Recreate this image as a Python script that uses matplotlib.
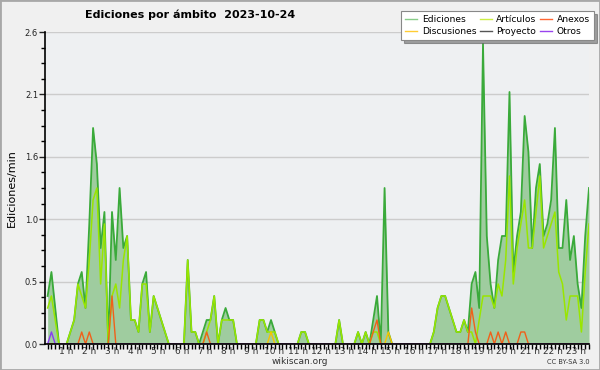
import matplotlib
matplotlib.use("Agg")
import matplotlib.pyplot as plt
from matplotlib.lines import Line2D
from matplotlib.patches import Rectangle
import numpy as np

# ediciones/min por intervalo de 10 minutos (144 intervalos, 12 por fila = 2 h)
ediciones = [
    0.4, 0.6, 0.3, 0, 0, 0, 0.1, 0.2, 0.5, 0.6, 0.3, 1.0,
    1.8, 1.5, 0.8, 1.1, 0, 1.1, 0.7, 1.3, 0.8, 0.9, 0.2, 0.2,
    0.1, 0.5, 0.6, 0.1, 0.4, 0.3, 0.2, 0.1, 0, 0, 0, 0,
    0, 0.7, 0.1, 0.1, 0, 0.1, 0.2, 0.2, 0.4, 0, 0.2, 0.3,
    0.2, 0.2, 0, 0, 0, 0, 0, 0, 0.2, 0.2, 0.1, 0.2,
    0.1, 0, 0, 0, 0, 0, 0, 0.1, 0.1, 0, 0, 0,
    0, 0, 0, 0, 0, 0.2, 0, 0, 0, 0, 0.1, 0,
    0.1, 0, 0.2, 0.4, 0, 1.3, 0.1, 0, 0, 0, 0, 0,
    0, 0, 0, 0, 0, 0, 0.1, 0.3, 0.4, 0.4, 0.3, 0.2,
    0.1, 0.1, 0.2, 0.1, 0.5, 0.6, 0.3, 2.5, 0.9, 0.5, 0.3, 0.7,
    0.9, 0.9, 2.1, 0.6, 0.9, 1.1, 1.9, 1.6, 0.8, 1.3, 1.5, 0.9,
    1.0, 1.2, 1.8, 0.8, 0.8, 1.2, 0.7, 0.9, 0.5, 0.3, 0.9, 1.3,
]
articulos = [
    0.3, 0.4, 0.2, 0, 0, 0, 0.1, 0.2, 0.5, 0.4, 0.3, 0.7,
    1.2, 1.3, 0.5, 1.0, 0, 0.4, 0.5, 0.3, 0.7, 0.9, 0.2, 0.2,
    0.1, 0.5, 0.5, 0.1, 0.4, 0.3, 0.2, 0.1, 0, 0, 0, 0,
    0, 0.7, 0.1, 0.1, 0, 0, 0.1, 0.2, 0.4, 0, 0.2, 0.2,
    0.2, 0.2, 0, 0, 0, 0, 0, 0, 0.2, 0.2, 0.1, 0.1,
    0.1, 0, 0, 0, 0, 0, 0, 0.1, 0.1, 0, 0, 0,
    0, 0, 0, 0, 0, 0.2, 0, 0, 0, 0, 0.1, 0,
    0.1, 0, 0.1, 0.1, 0, 0, 0, 0, 0, 0, 0, 0,
    0, 0, 0, 0, 0, 0, 0.1, 0.3, 0.4, 0.4, 0.3, 0.2,
    0.1, 0.1, 0.2, 0.1, 0.1, 0, 0.2, 0.4, 0.4, 0.4, 0.3, 0.5,
    0.4, 0.7, 1.4, 0.5, 0.8, 1.0, 1.2, 0.8, 0.8, 1.1, 1.4, 0.8,
    0.9, 1.0, 1.1, 0.6, 0.5, 0.2, 0.4, 0.4, 0.4, 0.1, 0.6, 1.0,
]
anexos = [
    0, 0, 0, 0, 0, 0, 0, 0, 0, 0.1, 0, 0.1,
    0, 0, 0, 0, 0, 0.4, 0, 0, 0, 0, 0, 0,
    0, 0, 0, 0, 0, 0, 0, 0, 0, 0, 0, 0,
    0, 0, 0, 0, 0, 0, 0.1, 0, 0, 0, 0, 0,
    0, 0, 0, 0, 0, 0, 0, 0, 0, 0, 0, 0,
    0, 0, 0, 0, 0, 0, 0, 0, 0, 0, 0, 0,
    0, 0, 0, 0, 0, 0, 0, 0, 0, 0, 0, 0,
    0, 0, 0.1, 0.2, 0, 0, 0, 0, 0, 0, 0, 0,
    0, 0, 0, 0, 0, 0, 0, 0, 0, 0, 0, 0,
    0, 0, 0, 0, 0.3, 0.1, 0, 0, 0, 0.1, 0, 0.1,
    0, 0.1, 0, 0, 0, 0.1, 0.1, 0, 0, 0, 0, 0,
    0, 0, 0, 0, 0, 0, 0, 0, 0, 0, 0, 0,
]
discusiones = [
    0, 0, 0, 0, 0, 0, 0, 0, 0, 0, 0, 0,
    0, 0, 0, 0, 0, 0, 0, 0, 0, 0, 0, 0,
    0, 0, 0, 0, 0, 0, 0, 0, 0, 0, 0, 0,
    0, 0, 0, 0, 0, 0, 0, 0, 0, 0, 0, 0,
    0, 0, 0, 0, 0, 0, 0, 0, 0, 0, 0, 0.1,
    0, 0, 0, 0, 0, 0, 0, 0, 0, 0, 0, 0,
    0, 0, 0, 0, 0, 0, 0, 0, 0, 0, 0, 0,
    0, 0, 0, 0, 0, 0, 0.1, 0, 0, 0, 0, 0,
    0, 0, 0, 0, 0, 0, 0, 0, 0, 0, 0, 0,
    0, 0, 0, 0, 0, 0, 0, 0, 0, 0, 0, 0,
    0, 0, 0, 0, 0, 0, 0, 0, 0, 0, 0, 0,
    0, 0, 0, 0, 0, 0, 0, 0, 0, 0, 0, 0,
]
proyecto = [0] * 144
otros = [
    0, 0.1, 0, 0, 0, 0, 0, 0, 0, 0, 0, 0,
] + [0] * 132

horas = list(range(1, 24))
ymax = 2.6

fig = plt.figure(figsize=(6, 3.7), dpi=100, facecolor="#f0f0f0")
fig.patches.append(Rectangle((0, 0), 1, 1, transform=fig.transFigure,
                             fill=False, edgecolor="#a8a8a8", lw=2))
ax = fig.add_axes([45 / 600, 26 / 370, 544 / 600, 312 / 370])
ax.set_facecolor("#eef0f2")

x = np.arange(len(ediciones))
ax.fill_between(x, ediciones, color="#9fcc9f", lw=0, zorder=1)
ax.plot(x, ediciones, color="#3aaa3a", lw=1.3, zorder=2)
ax.plot(x, articulos, color="#99e600", lw=1.1, zorder=3)
ax.plot(x, discusiones, color="#f5c400", lw=1.0, zorder=3)
ax.plot(x, proyecto, color="#555555", lw=1.0, zorder=3)
ax.plot(x, anexos, color="#f0601a", lw=1.0, zorder=3)
ax.plot(x, otros, color="#8a3cf0", lw=1.0, zorder=3)

ax.set_xlim(-0.7, 143)
ax.set_ylim(0, ymax)

# ejes
for s in ["top", "right"]:
    ax.spines[s].set_visible(False)
ax.spines["left"].set_linewidth(1.2)
ax.spines["bottom"].set_linewidth(1.2)
ax.spines["left"].set_zorder(5)
ax.spines["bottom"].set_zorder(5)

yt = [ymax * i / 5 for i in range(6)]
ax.set_yticks(yt, ["%.1f" % v for v in yt])
ax.set_yticks([ymax * i / 20 for i in range(21)], minor=True)
ax.yaxis.grid(True, color="#cccccc", lw=1)
ax.set_axisbelow(True)
ax.tick_params(axis="y", which="major", length=4, width=1, labelsize=6,
               pad=1, colors="#222222")
ax.tick_params(axis="y", which="minor", length=3, width=1)

ax.set_xticks([6.128 * h - 1.36 for h in horas], ["%d h" % h for h in horas])
ax.set_xticks(x, minor=True)
ax.tick_params(axis="x", which="major", length=0, labelsize=6.5, pad=2.5,
               colors="#333333")
ax.tick_params(axis="x", which="minor", length=3.5, width=1)

ax.set_ylabel("Ediciones/min", fontsize=8, labelpad=6)

fig.text(85 / 600, 1 - 15 / 370, "Ediciones por ámbito  2023-10-24",
         fontsize=8, fontweight="bold", ha="left", va="center")
fig.text(0.5, 8 / 370, "wikiscan.org", fontsize=6.5, ha="center",
         va="center", color="#333333")
fig.text(590 / 600, 8 / 370, "CC BY-SA 3.0", fontsize=4.8, ha="right",
         va="center", color="#333333")

handles = [
    Line2D([], [], color="#88cc88", lw=1),
    Line2D([], [], color="#ffcc33", lw=1),
    Line2D([], [], color="#ccee44", lw=1),
    Line2D([], [], color="#555555", lw=1),
    Line2D([], [], color="#ff6633", lw=1),
    Line2D([], [], color="#9944ee", lw=1),
]
labels = ["Ediciones", "Discusiones", "Artículos", "Proyecto", "Anexos", "Otros"]
leg = fig.legend(handles, labels, ncol=3, loc="upper right",
                 bbox_to_anchor=(594 / 600, 1 - 11 / 370), fontsize=6.6,
                 frameon=True, fancybox=False, shadow=True, handlelength=1.3,
                 handletextpad=0.5, columnspacing=0.4, labelspacing=0.3,
                 borderpad=0.45, borderaxespad=0)
leg.get_frame().set_edgecolor("#888888")
leg.get_frame().set_linewidth(0.8)

fig.savefig("out.png", dpi=100, facecolor=fig.get_facecolor())
